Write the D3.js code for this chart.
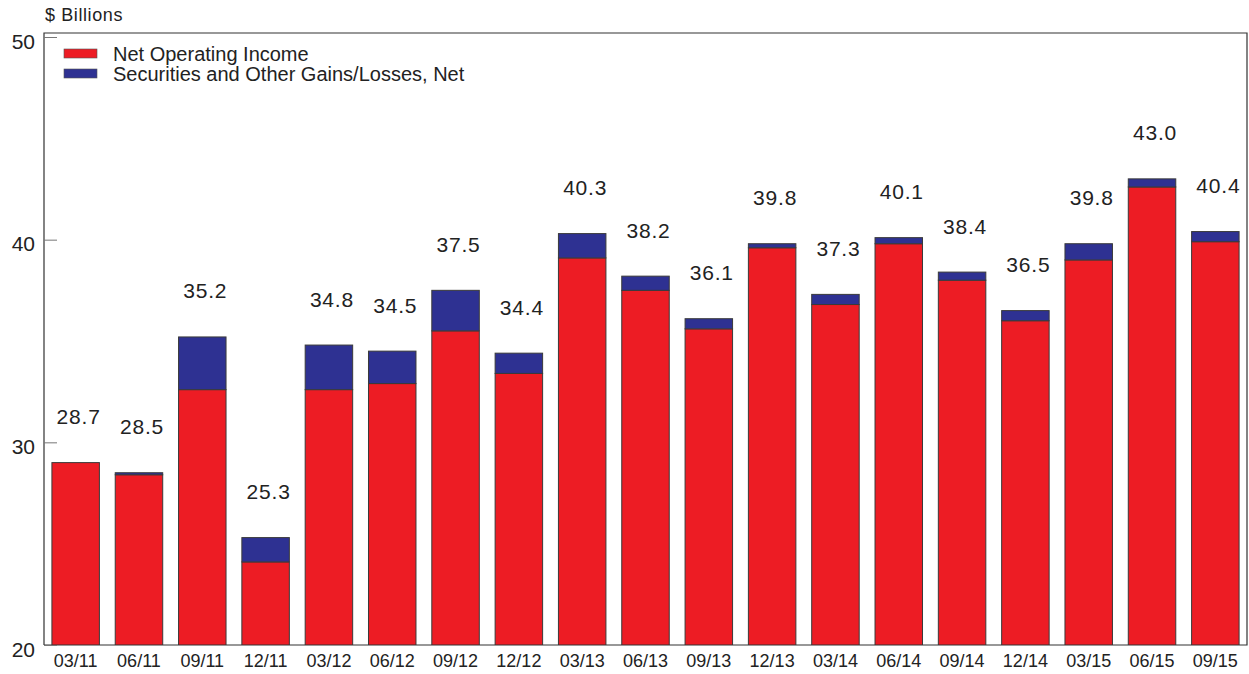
<!DOCTYPE html>
<html>
<head>
<meta charset="utf-8">
<script src="https://cdn.jsdelivr.net/npm/d3@7"></script>
<style>
  body { margin: 0; background: #fff; }
  svg { font-family: "Liberation Sans", Arial, Helvetica, sans-serif; }
</style>
</head>
<body>
<div id="chart"></div>
<script>
// quarters
var quarters = ["03/11","06/11","09/11","12/11","03/12","06/12","09/12","12/12","03/13","06/13",
                "09/13","12/13","03/14","06/14","09/14","12/14","03/15","06/15","09/15"];
// $ billions
var netOperating = [29.0, 28.4, 32.6, 24.1, 32.6, 32.9, 35.5, 33.4, 39.1, 37.5,
                    35.6, 39.6, 36.8, 39.8, 38.0, 36.0, 39.0, 42.6, 39.9];
var securities = [-0.3, 0.1, 2.6, 1.2, 2.2, 1.6, 2.0, 1.0, 1.2, 0.7,
                  0.5, 0.2, 0.5, 0.3, 0.4, 0.5, 0.8, 0.4, 0.5];
var totals = [28.7, 28.5, 35.2, 25.3, 34.8, 34.5, 37.5, 34.4, 40.3, 38.2,
              36.1, 39.8, 37.3, 40.1, 38.4, 36.5, 39.8, 43.0, 40.4];
var yTicks = [20, 30, 40, 50];
var seriesNames = ["Net Operating Income", "Securities and Other Gains/Losses, Net"];
var colors = ["#ed1c24", "#2e3192"];

var W = 1249, H = 674;
var plotL = 44, plotR = 1247, plotT = 37, plotB = 645;

var svg = d3.select("#chart").append("svg")
    .attr("width", W)
    .attr("height", H);

var rows = quarters.map(function(q, i) {
  return { q: q, noi: netOperating[i], sec: securities[i], total: totals[i] };
});

var stack = d3.stack()
    .keys(["noi", "sec"])
    .offset(d3.stackOffsetDiverging);
var layers = stack(rows);

var x = d3.scaleBand()
    .domain(quarters)
    .range([plotL, plotR])
    .paddingInner(0.25)
    .paddingOuter(0.125);

var y = d3.scaleLinear()
    .domain([20, 50])
    .range([plotB, plotT]);

// clip so nothing spills below the 20 baseline
svg.append("clipPath").attr("id", "plot")
  .append("rect")
    .attr("x", plotL).attr("y", 0)
    .attr("width", plotR - plotL).attr("height", plotB);

// bars
svg.append("g").attr("clip-path", "url(#plot)")
  .selectAll("g")
  .data(layers)
  .join("g")
    .attr("fill", function(d, i) { return colors[i]; })
  .selectAll("rect")
  .data(function(d) { return d; })
  .join("rect")
    .attr("x", function(d) { return x(d.data.q); })
    .attr("width", x.bandwidth())
    .attr("y", function(d) { return y(Math.max(d[0], d[1])); })
    .attr("height", function(d) { return Math.abs(y(d[0]) - y(d[1])); })
    .attr("stroke", "#3a3a3a")
    .attr("stroke-width", 1);

// frame
svg.append("path")
    .attr("d", "M" + plotL + "," + plotB + "V33H" + plotR + "V" + plotB + "H" + plotL)
    .attr("fill", "none")
    .attr("stroke", "#333")
    .attr("stroke-width", 1.2);

// y axis ticks (inward)
var yAxis = d3.axisRight(y)
    .tickValues(yTicks)
    .tickSize(13)
    .tickFormat("");
var gy = svg.append("g")
    .attr("transform", "translate(" + plotL + ",0)")
    .call(yAxis);
gy.select(".domain").remove();
gy.selectAll("line").attr("stroke", "#777");

svg.append("g").selectAll("text")
  .data(yTicks)
  .join("text")
    .attr("x", 35)
    .attr("y", function(d) { return y(d) + 4; })
    .attr("text-anchor", "end")
    .attr("dominant-baseline", "central")
    .style("font-size", "21px")
    .attr("fill", "#222")
    .text(function(d) { return d; });

// x labels
svg.append("g").selectAll("text")
  .data(quarters)
  .join("text")
    .attr("x", function(d) { return x(d) + x.bandwidth() / 2; })
    .attr("y", 661)
    .attr("text-anchor", "middle")
    .attr("dominant-baseline", "central")
    .style("font-size", "18px")
    .attr("fill", "#222")
    .text(function(d) { return d; });

// total labels above bars
svg.append("g").selectAll("text")
  .data(rows)
  .join("text")
    .attr("x", function(d) { return x(d.q) + x.bandwidth() / 2 + 3; })
    .attr("y", function(d) { return y(d.noi + Math.max(0, d.sec)) - 46; })
    .attr("text-anchor", "middle")
    .attr("dominant-baseline", "central")
    .style("font-size", "21px")
    .style("letter-spacing", "0.8px")
    .attr("fill", "#222")
    .text(function(d) { return d.total.toFixed(1); });

// unit label
svg.append("text")
    .attr("x", 45)
    .attr("y", 21)
    .style("font-size", "18px")
    .style("letter-spacing", "0.6px")
    .attr("fill", "#222")
    .text("$ Billions");

// legend
var legend = svg.append("g").selectAll("g")
  .data(seriesNames)
  .join("g")
    .attr("transform", function(d, i) { return "translate(64," + (49 + i * 20) + ")"; });
legend.append("rect")
    .attr("width", 33).attr("height", 9)
    .attr("fill", function(d, i) { return colors[i]; })
    .attr("stroke", "#555").attr("stroke-width", 0.6);
legend.append("text")
    .attr("x", 49)
    .attr("y", 4.5)
    .attr("dominant-baseline", "central")
    .style("font-size", "20px")
    .attr("fill", "#222")
    .text(function(d) { return d; });
</script>
</body>
</html>
